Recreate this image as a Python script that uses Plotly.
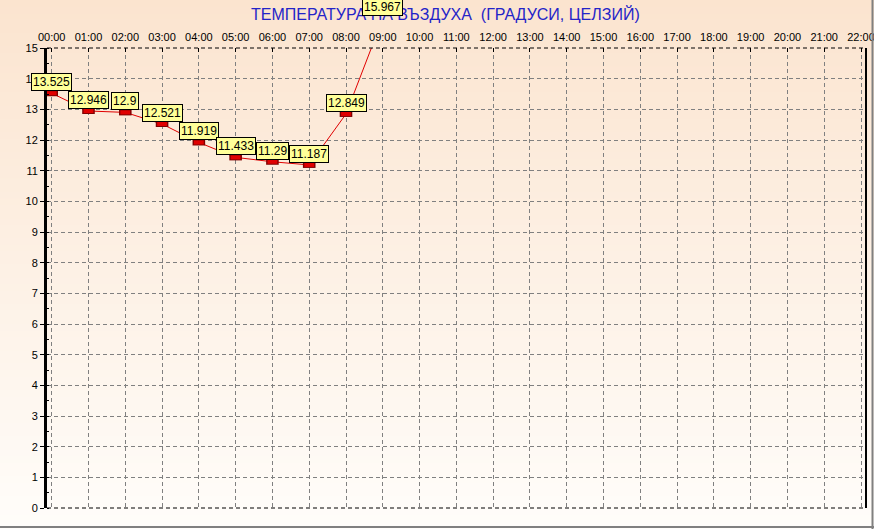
import plotly.graph_objects as go

hour_labels = ["%02d:00" % h for h in range(23)]
times = ["00:00", "01:00", "02:00", "03:00", "04:00", "05:00", "06:00", "07:00", "08:00", "09:00"]
temps = [13.525, 12.946, 12.9, 12.521, 11.919, 11.433, 11.29, 11.187, 12.849, 15.967]
y_ticks = list(range(0, 16))
title_text = "ТЕМПЕРАТУРА НА ВЪЗДУХА  (ГРАДУСИ, ЦЕЛЗИЙ)"

W, H = 874, 529
ML, MR, MT, MB = 47, 8, 48, 21
PW, PH = W - ML - MR, H - MT - MB
Y_RANGE = [0, 15]
X_RANGE = [-0.128, 22.136]

fig = go.Figure()

# background gradient (peach at top -> near white at bottom)
top_c = (251, 228, 207)
bot_c = (255, 253, 250)
N = 80
shapes = []
for i in range(N):
    t = (i + 0.5) / N
    c = tuple(round(top_c[k] + (bot_c[k] - top_c[k]) * t) for k in range(3))
    y_top_px = H * i / N
    y_bot_px = H * (i + 1) / N + 1
    shapes.append(dict(
        type="rect", xref="paper", yref="paper", layer="below",
        x0=-ML / PW, x1=1 + MR / PW,
        y0=1 + (MT - y_bot_px) / PH, y1=1 + (MT - y_top_px) / PH,
        fillcolor="rgb(%d,%d,%d)" % c, line=dict(width=0)))

# plot frame
shapes += [
    dict(type="line", xref="paper", yref="paper", x0=1, x1=1, y0=0, y1=1,
         line=dict(color="black", width=2)),
    dict(type="line", xref="paper", yref="paper", x0=0, x1=1, y0=1, y1=1,
         line=dict(color="black", width=1, dash="4px,3px")),
    dict(type="line", xref="paper", yref="paper", x0=0, x1=1, y0=0, y1=0,
         line=dict(color="black", width=1, dash="4px,3px")),
    # outer gray frame (bottom and right)
    dict(type="line", xref="paper", yref="paper",
         x0=-ML / PW, x1=1 + MR / PW, y0=-(MB - 2) / PH, y1=-(MB - 2) / PH,
         line=dict(color="#808080", width=2)),
    dict(type="line", xref="paper", yref="paper",
         x0=1 + (MR - 1.5) / PW, x1=1 + (MR - 1.5) / PW, y0=-MB / PH, y1=1 + MT / PH,
         line=dict(color="#808080", width=2)),
]

fig.add_trace(go.Scatter(
    x=times, y=temps, mode="lines",
    line=dict(color="#E00000", width=1), hoverinfo="skip", showlegend=False))
fig.add_trace(go.Scatter(
    x=times, y=temps, mode="markers",
    marker=dict(symbol="line-ew", size=9, line=dict(color="#800000", width=6)),
    hoverinfo="skip", showlegend=False))
fig.add_trace(go.Scatter(
    x=times, y=temps, mode="markers",
    marker=dict(symbol="line-ew", size=7, line=dict(color="#E00000", width=4)),
    showlegend=False))

annotations = [dict(
    text=title_text, xref="paper", yref="paper",
    x=(445 - ML) / PW, y=1 + (MT - 14) / PH, xanchor="center", yanchor="middle",
    showarrow=False, font=dict(family="Liberation Sans, Arial", size=16, color="#2424C8"))]

for t, v in zip(times, temps):
    if Y_RANGE[0] <= v <= Y_RANGE[1]:
        yref, yv = "y", v
    else:
        yref, yv = "paper", (v - Y_RANGE[0]) / (Y_RANGE[1] - Y_RANGE[0])
    annotations.append(dict(
        text=str(v), x=t, y=yv, xref="x", yref=yref,
        xanchor="center", yanchor="bottom", yshift=2, showarrow=False,
        bgcolor="#FFFF99", bordercolor="black", borderwidth=1, borderpad=1,
        font=dict(family="Liberation Sans, Arial", size=12, color="black")))

fig.update_layout(
    width=W, height=H,
    margin=dict(l=ML, r=MR, t=MT, b=MB, autoexpand=False),
    paper_bgcolor="white", plot_bgcolor="rgba(0,0,0,0)",
    shapes=shapes, annotations=annotations,
    font=dict(family="Liberation Sans, Arial", size=11, color="black"),
    xaxis=dict(
        type="category", categoryorder="array", categoryarray=hour_labels,
        tickvals=hour_labels, ticktext=hour_labels, automargin=False,
        side="top", range=X_RANGE, showline=False, zeroline=False,
        showgrid=True, gridcolor="#808080", griddash="4px,3px", gridwidth=1,
        ticks="inside", ticklen=4, tickcolor="black",
        ticklabelstandoff=4, tickfont=dict(size=11)),
    yaxis=dict(
        range=Y_RANGE, tickvals=y_ticks, showline=True, linecolor="black", linewidth=3,
        automargin=False,
        zeroline=False, showgrid=True, gridcolor="#808080", griddash="4px,3px", gridwidth=1,
        ticks="outside", ticklen=4, tickcolor="black", tickfont=dict(size=11),
        minor=dict(dtick=0.5, ticks="inside", ticklen=2, tickcolor="black", showgrid=False)),
)

fig.write_html("out.html", config={"displayModeBar": False, "responsive": False},
               post_script="document.body.style.margin='0';document.body.style.overflow='hidden';")
